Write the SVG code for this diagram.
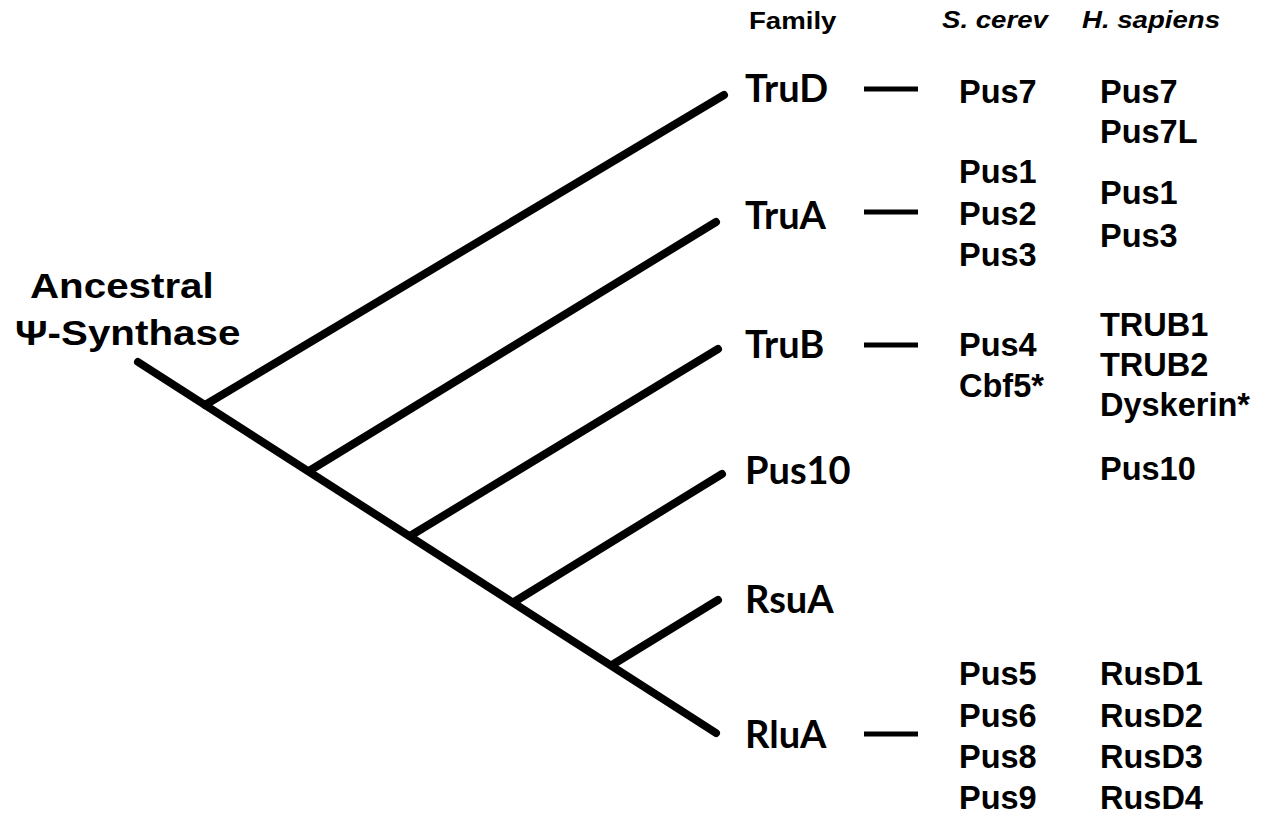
<svg xmlns="http://www.w3.org/2000/svg" width="1269" height="815" viewBox="0 0 1269 815">
  <style>
    .tree { stroke: #000; stroke-width: 8; stroke-linecap: round; fill: none; }
    .dash { stroke: #000; stroke-width: 5; fill: none; }
    .fam { font-family: "Lato", "Open Sans", sans-serif; font-weight: bold; font-size: 38px; fill: #000; }
    .gene { font-family: "Liberation Sans", Arial, sans-serif; font-weight: bold; font-size: 32.5px; fill: #000; }
    .head { font-family: "Liberation Sans", Arial, sans-serif; font-weight: bold; font-size: 24px; fill: #000;
            transform-box: fill-box; transform-origin: 0 100%; transform: scaleX(1.15); }
    .root { font-family: "Liberation Sans", Arial, sans-serif; font-weight: bold; font-size: 36px; fill: #000;
            transform-box: fill-box; transform-origin: 0 100%; transform: scaleX(1.12); }
  </style>
  <rect width="1269" height="815" fill="#fff"/>

  <!-- column headings -->
  <g id="headings">
    <text class="head" x="749" y="29">Family</text>
    <text class="head" x="942" y="28" font-style="italic">S. cerev</text>
    <text class="head" x="1082" y="28" font-style="italic">H. sapiens</text>
  </g>

  <!-- tree branches and family-to-gene dashes -->
  <g id="connectors">
    <line class="tree" x1="138" y1="362" x2="716" y2="733"/>
    <line class="tree" x1="205" y1="405" x2="724" y2="95"/>
    <line class="tree" x1="309" y1="471" x2="716" y2="222"/>
    <line class="tree" x1="410" y1="536" x2="718" y2="349"/>
    <line class="tree" x1="514" y1="602" x2="722" y2="474"/>
    <line class="tree" x1="612" y1="665" x2="718" y2="600"/>
    <line class="dash" x1="864" y1="89" x2="918" y2="89"/>
    <line class="dash" x1="864" y1="212" x2="918" y2="212"/>
    <line class="dash" x1="864" y1="345" x2="918" y2="345"/>
    <line class="dash" x1="864" y1="734" x2="918" y2="734"/>
  </g>

  <g id="root">
    <text class="root" x="30" y="298">Ancestral</text>
    <text class="root" x="15" y="345">Ψ-Synthase</text>
  </g>

  <g id="trud">
    <text class="fam" x="745" y="102">TruD</text>
    <text class="gene" x="959" y="103">Pus7</text>
    <text class="gene" x="1100" y="103">Pus7</text>
    <text class="gene" x="1100" y="143">Pus7L</text>
  </g>

  <g id="trua">
    <text class="fam" x="745" y="229">TruA</text>
    <text class="gene" x="959" y="183">Pus1</text>
    <text class="gene" x="959" y="225">Pus2</text>
    <text class="gene" x="959" y="266">Pus3</text>
    <text class="gene" x="1100" y="204">Pus1</text>
    <text class="gene" x="1100" y="247">Pus3</text>
  </g>

  <g id="trub">
    <text class="fam" x="745" y="358">TruB</text>
    <text class="gene" x="959" y="356">Pus4</text>
    <text class="gene" x="959" y="397">Cbf5*</text>
    <text class="gene" x="1100" y="336">TRUB1</text>
    <text class="gene" x="1100" y="376">TRUB2</text>
    <text class="gene" x="1100" y="416">Dyskerin*</text>
  </g>

  <g id="pus10">
    <text class="fam" x="745" y="484">Pus10</text>
    <text class="gene" x="1100" y="480">Pus10</text>
  </g>

  <g id="rsua">
    <text class="fam" x="745" y="613">RsuA</text>
  </g>

  <g id="rlua">
    <text class="fam" x="745" y="748">RluA</text>
    <text class="gene" x="959" y="685">Pus5</text>
    <text class="gene" x="959" y="727">Pus6</text>
    <text class="gene" x="959" y="768">Pus8</text>
    <text class="gene" x="959" y="809">Pus9</text>
    <text class="gene" x="1100" y="685">RusD1</text>
    <text class="gene" x="1100" y="727">RusD2</text>
    <text class="gene" x="1100" y="768">RusD3</text>
    <text class="gene" x="1100" y="809">RusD4</text>
  </g>
</svg>
